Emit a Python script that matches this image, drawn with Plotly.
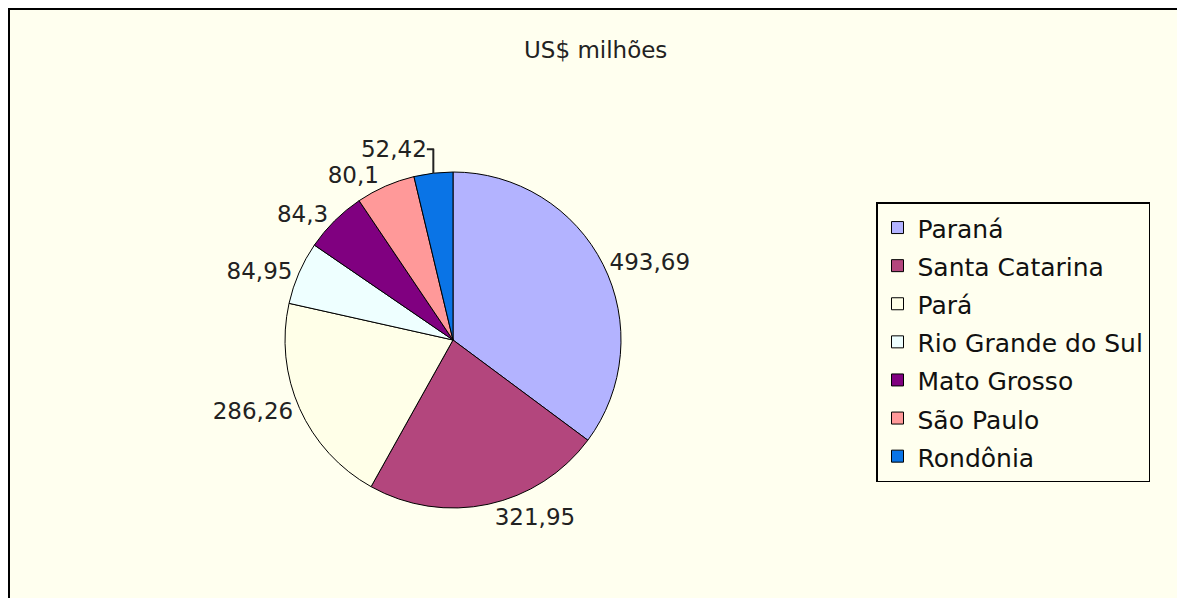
import plotly.graph_objects as go

states = ["Paraná", "Santa Catarina", "Pará", "Rio Grande do Sul",
          "Mato Grosso", "São Paulo", "Rondônia"]
values = [493.69, 321.95, 286.26, 84.95, 84.3, 80.1, 52.42]
colors = ["#B3B3FF", "#B3467D", "#FFFFE8", "#EEFFFF",
          "#800080", "#FF9999", "#0A74E6"]
title_text = "US$ milhões"

labels_txt = [f"{v:g}".replace(".", ",") for v in values]
# legend entries: text drawn at 25px while the row pitch follows a larger legend font
legend_names = [f"<span style='font-size:25px'>{s}</span>" for s in states]

W, H = 1169, 590
OFF = 8  # page body margin: figure is drawn starting at (8, 8)
BG = "#FFFFEF"
FONT = "DejaVu Sans, Verdana, Arial"


def px(x):
    return (x - OFF) / W


def py(y):
    return 1 - (y - OFF) / H


fig = go.Figure()
fig.add_trace(go.Pie(
    labels=legend_names,
    values=values,
    text=labels_txt,
    textinfo="text",
    textposition="outside",
    sort=False,
    direction="clockwise",
    rotation=0,
    marker=dict(colors=colors, line=dict(color="black", width=1)),
    outsidetextfont=dict(family=FONT, size=23, color="#222222"),
    textfont=dict(family=FONT, size=23, color="#222222"),
    domain=dict(x=[px(285), px(621)], y=[py(508), py(172)]),
    hoverinfo="label+value",
))

fig.update_layout(
    width=W, height=H,
    margin=dict(l=0, r=0, t=0, b=0),
    paper_bgcolor=BG,
    plot_bgcolor=BG,
    showlegend=True,
    legend=dict(
        x=px(876), y=py(202), xanchor="left", yanchor="top",
        bgcolor=BG, bordercolor="black", borderwidth=1.5,
        font=dict(family=FONT, size=27, color="#111111"),
        itemclick=False,
    ),
    shapes=[
        dict(type="line", xref="paper", yref="paper",
             x0=1 / W, x1=1 / W, y0=0, y1=1,
             line=dict(color="black", width=2)),
        dict(type="line", xref="paper", yref="paper",
             x0=0, x1=1, y0=1 - 1 / H, y1=1 - 1 / H,
             line=dict(color="black", width=2)),
    ],
    annotations=[dict(
        text=title_text, xref="paper", yref="paper",
        x=px(595), y=py(50), xanchor="center", yanchor="middle",
        showarrow=False,
        font=dict(family=FONT, size=23, color="#222222"),
    )],
)

fig.write_html("out.html")
